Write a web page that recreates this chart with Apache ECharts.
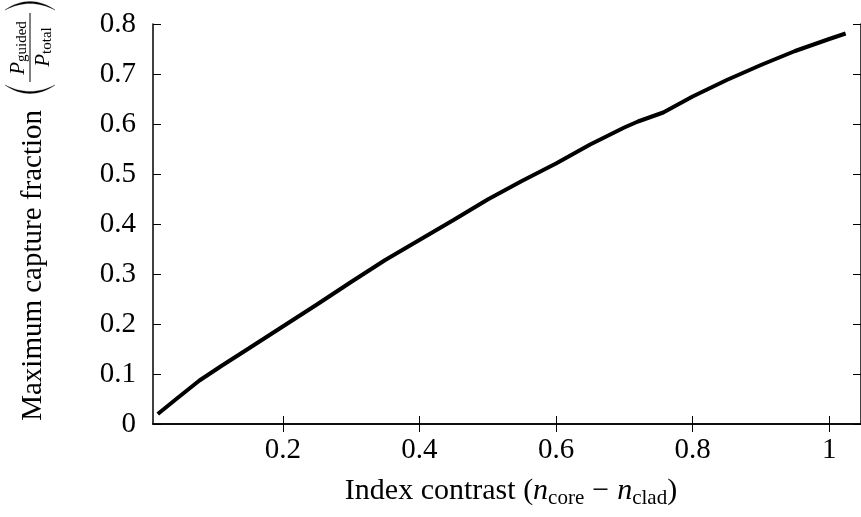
<!DOCTYPE html>
<html>
<head>
<meta charset="utf-8">
<title>Maximum capture fraction</title>
<script src="https://cdn.jsdelivr.net/npm/echarts@6/dist/echarts.min.js"></script>
<style>
  html, body { margin: 0; padding: 0; background: #fff; }
  #chart { width: 861px; height: 517px; }
</style>
</head>
<body>
<div id="chart"></div>
<script>
// index contrast (n_core - n_clad)
var contrast = [0.017, 0.045, 0.078, 0.11, 0.15, 0.2, 0.25, 0.3, 0.35, 0.4, 0.45, 0.5, 0.55, 0.6, 0.65, 0.7, 0.72, 0.757, 0.8, 0.85, 0.9, 0.95, 1.0, 1.024];
// maximum capture fraction P_guided / P_total
var capture = [0.020, 0.051, 0.087, 0.116, 0.151, 0.195, 0.239, 0.284, 0.328, 0.368, 0.408, 0.449, 0.486, 0.521, 0.559, 0.593, 0.605, 0.623, 0.655, 0.688, 0.718, 0.746, 0.770, 0.781];
var xTicks = [0.2, 0.4, 0.6, 0.8, 1];
var yTicks = [0, 0.1, 0.2, 0.3, 0.4, 0.5, 0.6, 0.7, 0.8];

var serif = '"Liberation Serif", "DejaVu Serif", serif';
var fs = 29;

var points = contrast.map(function (x, i) { return [x, capture[i]]; });

// crescent shaped bracket (tip x, bulge of outer / inner curve), y from 5 to 55
function paren(tip, outer, inner) {
  var pts = [], t, n = 16;
  for (t = 0; t <= n; t++) {
    var u = t / n;
    pts.push([tip + 2 * u * (1 - u) * outer, 5 + 50 * u]);
  }
  for (t = n; t >= 0; t--) {
    var w = t / n;
    pts.push([tip + 2 * w * (1 - w) * inner, 5 + 50 * w]);
  }
  return pts;
}

var chart = echarts.init(document.getElementById('chart'));

var baseX = {
  type: 'value', min: 0.01, max: 1.0465,
  splitLine: { show: false },
  axisLine: { show: true, lineStyle: { color: '#000', width: 1.5 } },
  axisTick: { show: true, inside: true, length: 8, customValues: xTicks, lineStyle: { color: '#000', width: 1 } }
};
var baseY = {
  type: 'value', min: 0, max: 0.8,
  splitLine: { show: false },
  axisLine: { show: true, lineStyle: { color: '#000', width: 1.5 } },
  axisTick: { show: true, inside: true, length: 8, customValues: yTicks, lineStyle: { color: '#000', width: 1 } }
};

// fraction text P_guided / P_total for the y title
var fracRich = {
  p: { fontFamily: serif, fontSize: 21, fontStyle: 'italic', fill: '#000', lineHeight: 24 },
  s: { fontFamily: serif, fontSize: 15, fill: '#000', verticalAlign: 'bottom', lineHeight: 15 }
};

chart.setOption({
  animation: false,
  grid: { left: 153, right: 0, top: 24, bottom: 93, outerBoundsMode: 'none' },
  xAxis: [
    Object.assign({}, baseX, {
      position: 'bottom',
      axisLabel: {
        customValues: xTicks, margin: 12,
        fontFamily: serif, fontSize: fs, color: '#000',
        formatter: function (v) { return v === 1 ? '1' : v.toFixed(1); }
      },
      name: 'Index contrast ({i|n}{s|core}{m|−}{i|n}{s|clad})',
      nameLocation: 'middle', nameGap: 49,
      nameTextStyle: {
        fontFamily: serif, fontSize: 30, color: '#000', lineHeight: 36, padding: [0, 0, 0, 8],
        rich: {
          i: { fontFamily: serif, fontSize: 30, fontStyle: 'italic', color: '#000', lineHeight: 36 },
          s: { fontFamily: serif, fontSize: 21, color: '#000', verticalAlign: 'bottom', lineHeight: 21 },
          m: { fontFamily: serif, fontSize: 30, color: '#000', lineHeight: 36, padding: [0, 8, 0, 8] }
        }
      }
    }),
    Object.assign({}, baseX, { position: 'top', axisLabel: { show: false } })
  ],
  yAxis: [
    Object.assign({}, baseY, {
      position: 'left',
      axisLabel: {
        customValues: yTicks, margin: 17,
        fontFamily: serif, fontSize: fs, color: '#000',
        formatter: function (v) { return v === 0 ? '0' : v.toFixed(1); }
      }
    }),
    Object.assign({}, baseY, { position: 'right', axisLabel: { show: false } })
  ],
  series: [{
    type: 'line',
    data: points,
    showSymbol: false,
    lineStyle: { color: '#000', width: 4 },
    silent: true
  }],
  graphic: [{
    type: 'group',
    x: 0, y: 0,
    rotation: Math.PI / 2,
    children: [
      { type: 'text', x: -110, y: 33,
        style: { text: 'Maximum capture fraction', font: fs + 'px ' + serif, fill: '#000',
                 align: 'right', verticalAlign: 'middle', textAlign: 'right', textVerticalAlign: 'middle' } },
      { type: 'polygon', shape: { points: paren(-85, -17, -13) },
        style: { fill: '#000', stroke: '#000', lineWidth: 0.3 } },
      { type: 'text', x: -48, y: 18,
        style: { text: '{p|P}{s|guided}', fill: '#000', lineHeight: 24,
                 align: 'center', verticalAlign: 'middle', textAlign: 'center', textVerticalAlign: 'middle',
                 rich: fracRich } },
      { type: 'line', shape: { x1: -82, y1: 30, x2: -13, y2: 30 }, style: { stroke: '#000', lineWidth: 1 } },
      { type: 'text', x: -47, y: 43,
        style: { text: '{p|P}{s|total}', fill: '#000', lineHeight: 24,
                 align: 'center', verticalAlign: 'middle', textAlign: 'center', textVerticalAlign: 'middle',
                 rich: fracRich } },
      { type: 'polygon', shape: { points: paren(-10, 17, 13) },
        style: { fill: '#000', stroke: '#000', lineWidth: 0.3 } }
    ]
  }]
});
</script>
</body>
</html>
